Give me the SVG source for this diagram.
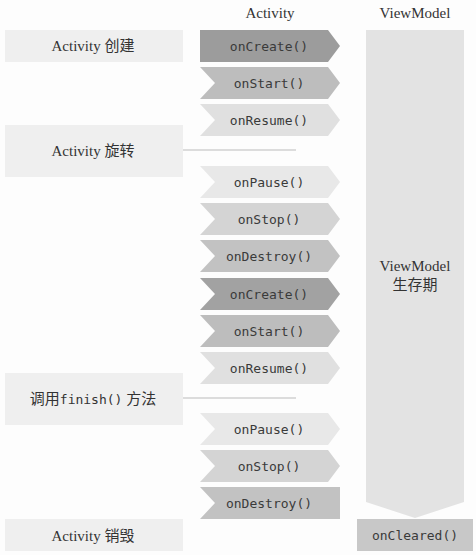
<svg xmlns="http://www.w3.org/2000/svg" width="476" height="555" viewBox="0 0 476 555">
<style>
.lbl{fill:#efefef}
.ser{font-family:"Liberation Serif","Noto Sans CJK SC",serif;font-size:15px;fill:#333;text-anchor:middle}
.mono{font-family:"DejaVu Sans Mono","Liberation Mono",monospace;font-size:13px;fill:#3a3a3a;text-anchor:middle}
.ln{stroke:#dcdcdc;stroke-width:2;fill:none}
</style>
<defs>
<path id="chev" d="M0,0 L128,0 L140,16 L128,32 L0,32 L15,16 Z"/>
</defs>
<rect width="476" height="555" fill="#fdfdfd"/>
<text class="ser" x="270" y="18">Activity</text>
<text class="ser" x="415" y="18">ViewModel</text>

<g id="vm">
<path d="M366,30 L464,30 L464,502 L415,518 L366,502 Z" fill="#e3e3e3"/>
<text class="ser" x="415" y="271">ViewModel</text>
<text class="ser" x="415" y="290">生存期</text>
</g>

<g id="connectors">
<line class="ln" x1="183" y1="150" x2="296" y2="150"/>
<line class="ln" x1="183" y1="398" x2="296" y2="398"/>
</g>

<g id="l-create"><rect class="lbl" x="5" y="30" width="178" height="32"/><text class="ser" x="93" y="51">Activity 创建</text></g>
<g id="l-rotate"><rect class="lbl" x="5" y="125" width="178" height="52"/><text class="ser" x="93" y="156">Activity 旋转</text></g>
<g id="l-finish"><rect class="lbl" x="5" y="373" width="178" height="52"/><text class="ser" x="93" y="404">调用<tspan style="font-family:'DejaVu Sans Mono',monospace;font-size:13px">finish()</tspan> 方法</text></g>
<g id="l-destroy"><rect class="lbl" x="5" y="519" width="178" height="32"/><text class="ser" x="93" y="541">Activity 销毁</text></g>

<g id="c1"><path d="M200,30 L328,30 L340,46 L328,62 L200,62 Z" fill="#9c9c9c"/><text class="mono" x="269" y="51">onCreate()</text></g>
<g id="c2"><use href="#chev" x="200" y="67" fill="#bdbdbd"/><text class="mono" x="269" y="88">onStart()</text></g>
<g id="c3"><use href="#chev" x="200" y="104" fill="#e0e0e0"/><text class="mono" x="269" y="125">onResume()</text></g>
<g id="c4"><use href="#chev" x="200" y="166" fill="#e8e8e8"/><text class="mono" x="269" y="187">onPause()</text></g>
<g id="c5"><use href="#chev" x="200" y="203" fill="#d4d4d4"/><text class="mono" x="269" y="224">onStop()</text></g>
<g id="c6"><use href="#chev" x="200" y="240" fill="#c2c2c2"/><text class="mono" x="269" y="261">onDestroy()</text></g>
<g id="c7"><use href="#chev" x="200" y="278" fill="#a2a2a2"/><text class="mono" x="269" y="299">onCreate()</text></g>
<g id="c8"><use href="#chev" x="200" y="315" fill="#bdbdbd"/><text class="mono" x="269" y="336">onStart()</text></g>
<g id="c9"><use href="#chev" x="200" y="352" fill="#e0e0e0"/><text class="mono" x="269" y="373">onResume()</text></g>
<g id="c10"><use href="#chev" x="200" y="413" fill="#e8e8e8"/><text class="mono" x="269" y="434">onPause()</text></g>
<g id="c11"><use href="#chev" x="200" y="450" fill="#d4d4d4"/><text class="mono" x="269" y="471">onStop()</text></g>
<g id="c12"><path d="M200,487 L340,487 L340,519 L200,519 L215,503 Z" fill="#c2c2c2"/><text class="mono" x="269" y="508">onDestroy()</text></g>

<g id="cleared"><rect x="357" y="519" width="116" height="32" fill="#c8c8c8"/><text class="mono" x="415" y="540">onCleared()</text></g>
</svg>
